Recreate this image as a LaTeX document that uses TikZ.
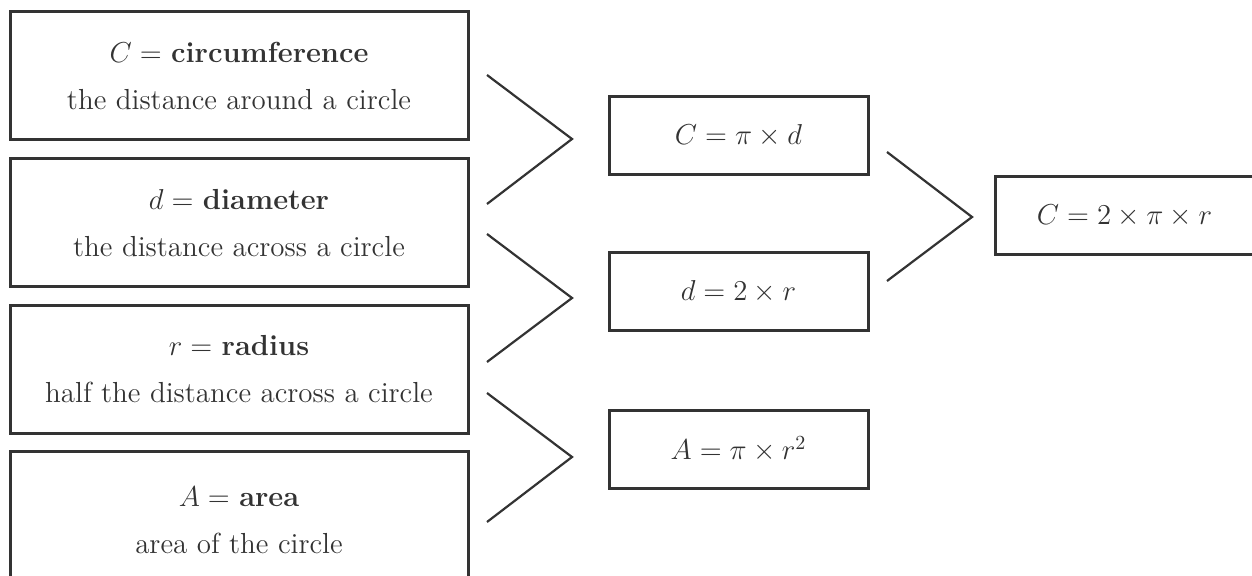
\documentclass[tikz,border=0pt]{standalone}
\usepackage{amsmath,amssymb}
\usepackage{xcolor}
\usepackage{tikz}
\usetikzlibrary{
    calc,
    positioning
}

\definecolor{ink}{HTML}{333333}

\begin{document}
\begin{tikzpicture}[
    x=0.5pt, y=-0.5pt,
    defbox/.style={
        rectangle,
        draw=ink,
        line width=1.5pt,
        minimum width=229pt,
        minimum height=64pt,
        align=center,
        text=ink,
        font=\fontsize{14.5}{23.5}\selectfont
    },
    formula/.style={defbox, minimum width=129.5pt, minimum height=39pt},
    chevron/.style={draw=ink, line width=1.1pt}
]

% Frame
\useasboundingbox (0,0) rectangle (1252,576);
\clip (0,0) rectangle (1252,576);

% ===== Definitions =====
\node[defbox] (circ) at (239, 76) {$C =$ \textbf{circumference}\\the distance around a circle};
\node[defbox] (diam) at (239, 223) {$d =$ \textbf{diameter}\\the distance across a circle};
\node[defbox] (rad) at (239, 369.5) {$r =$ \textbf{radius}\\half the distance across a circle};
\node[defbox, minimum height=68pt] (area) at (239, 520) {$A =$ \textbf{area}\\area of the circle};

% ===== Formulas =====
\node[formula] (cpd) at (738.5, 136) {$C = \pi \times d$};
\node[formula] (dtr) at (738.5, 292) {$d = 2 \times r$};
\node[formula] (apr) at (738.5, 449.5) {$A = \pi \times r^2$};

% Result
\node[formula] (ctpr) at (1124.5, 216) {$C = 2 \times \pi \times r$};

% ===== Chevrons =====
\coordinate (tip1) at (572, 139);
\coordinate (tip2) at (572, 298);
\coordinate (tip3) at (572, 457);
\coordinate (tip4) at (972, 217);

\draw[chevron] ($(tip1)+(-85,-64)$) -- (tip1) -- ($(tip1)+(-85,65)$);
\draw[chevron] ($(tip2)+(-85,-64)$) -- (tip2) -- ($(tip2)+(-85,64)$);
\draw[chevron] ($(tip3)+(-85,-64)$) -- (tip3) -- ($(tip3)+(-85,65)$);
\draw[chevron] ($(tip4)+(-85,-65)$) -- (tip4) -- ($(tip4)+(-85,64)$);

\end{tikzpicture}
\end{document}
